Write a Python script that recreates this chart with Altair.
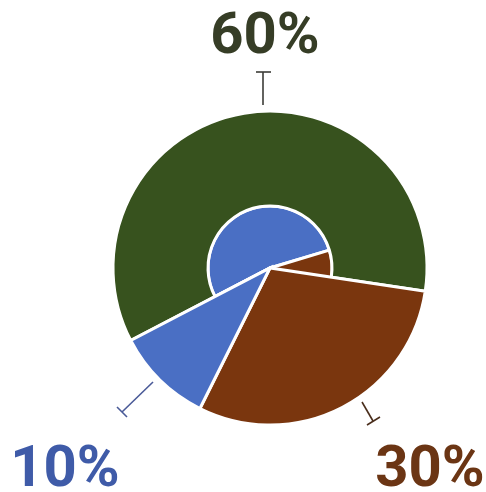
import math
import altair as alt
import pandas as pd

# ---- data ----
categories = ["60%", "30%", "10%"]
values = [60, 30, 10]
slice_colors = ["#37521e", "#7a360e", "#4a6fc4"]
label_colors = ["#363d26", "#6b3514", "#3f5ba8"]
leader_colors = ["#3c3c38", "#4a2e1c", "#4a5a98"]

# inner disc (visible only inside the green ring's hole)
inner_categories = ["10%", "30%"]
inner_values = [53, 47]

df = pd.DataFrame({"cat": categories, "value": values, "order": list(range(len(categories)))})
inner_df = pd.DataFrame({"cat": inner_categories, "value": inner_values,
                         "order": list(range(len(inner_categories)))})

CX, CY = 270, 268
R_OUT, R_IN = 157, 62
a0 = math.radians(242.5)

theta_scale = alt.Scale(domain=[0, 100], range=[a0, a0 + 2 * math.pi])
color_scale = alt.Scale(domain=categories, range=slice_colors)


def stacked(data):
    return (alt.Chart(data)
            .transform_window(cum="sum(value)", sort=[alt.SortField("order")], frame=[None, 0])
            .transform_calculate(start="datum.cum - datum.value"))


def arc_enc():
    return dict(
        theta=alt.Theta("start:Q", scale=theta_scale),
        theta2="cum:Q",
        color=alt.Color("cat:N", scale=color_scale, legend=None),
        x=alt.value(CX),
        y=alt.value(CY),
    )


inner = stacked(inner_df).mark_arc(outerRadius=R_IN, stroke="white", strokeWidth=3).encode(**arc_enc())

green = (stacked(df)
         .transform_filter(alt.datum.cat == categories[0])
         .mark_arc(innerRadius=R_IN, outerRadius=R_OUT, stroke="white", strokeWidth=3)
         .encode(**arc_enc()))

others = (stacked(df)
          .transform_filter(alt.datum.cat != categories[0])
          .mark_arc(outerRadius=R_OUT, stroke="white", strokeWidth=3)
          .encode(**arc_enc()))


def rule(x1, y1, x2, y2, color):
    return alt.Chart(pd.DataFrame({"a": [0]})).mark_rule(color=color, strokeWidth=1.6).encode(
        x=alt.value(x1), y=alt.value(y1), x2=alt.value(x2), y2=alt.value(y2))


leaders = [
    rule(263, 72, 263, 105, leader_colors[0]),
    rule(256, 72, 271, 72, leader_colors[0]),
    rule(362, 402, 373, 421, leader_colors[1]),
    rule(367, 425, 380, 417, leader_colors[1]),
    rule(153, 382, 122, 412, leader_colors[2]),
    rule(117, 407, 127, 417, leader_colors[2]),
]


def label(text, x, y, color):
    return alt.Chart(pd.DataFrame({"t": [text]})).mark_text(
        font="Roboto", fontSize=58, fontWeight="bold", color=color,
        align="center", baseline="alphabetic").encode(
        text="t:N", x=alt.value(x), y=alt.value(y))


labels = [
    label(categories[0], 265, 53, label_colors[0]),
    label(categories[1], 430, 486, label_colors[1]),
    label(categories[2], 65, 486, label_colors[2]),
]

chart = alt.layer(inner, green, others, *leaders, *labels).properties(
    width=486, height=492,
    autosize=alt.AutoSizeParams(type="none"),
    padding=0,
).configure_view(stroke=None)

chart.save("out.html", embed_options={"renderer": "svg", "actions": False})
